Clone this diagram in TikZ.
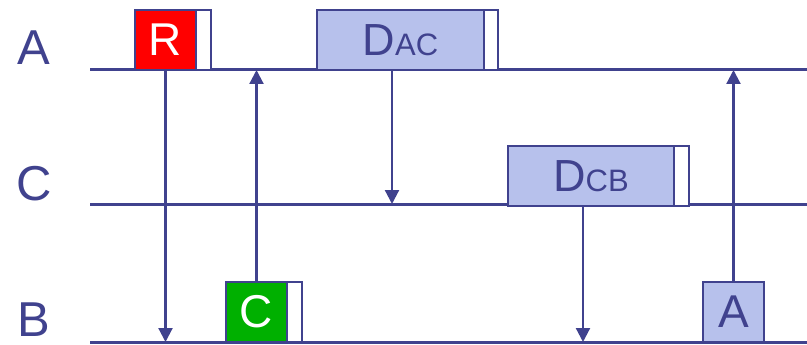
\documentclass[tikz,border=0pt]{standalone}
\usepackage{fontspec}
\setmainfont{Liberation Sans}
\usetikzlibrary{arrows.meta}
\definecolor{ink}{RGB}{64,66,142}
\definecolor{lblue}{RGB}{183,193,236}
\definecolor{dgreen}{RGB}{0,176,0}
\tikzset{
  tl/.style={line width=3pt, draw=ink},
  msg/.style={line width=2.2pt, draw=ink, -{Triangle[length=14pt,width=14pt]}, ink},
  box/.style={draw=ink, line width=2pt, inner sep=0pt, outer sep=0pt, minimum height=60pt},
  tail/.style={box, fill=white, minimum width=15pt, anchor=west},
  lab/.style={text=ink, inner sep=0pt, font=\fontsize{49}{49}\selectfont},
  big/.style={font=\fontsize{46}{46}\selectfont}
}
\begin{document}
\begin{tikzpicture}[x=1pt,y=-1pt]
\useasboundingbox (0,0) rectangle (807,345);
% time lines
\coordinate (A0) at (90,70);  \coordinate (A1) at (807,70);
\coordinate (C0) at (90,204); \coordinate (C1) at (807,204);
\coordinate (B0) at (90,342); \coordinate (B1) at (807,342);
\draw[tl] (A0) -- (A1);
\draw[tl] (C0) -- (C1);
\draw[tl] (B0) -- (B1);
% station labels
\node[lab] (lA) at (34,48) {A};
\node[lab] (lC) at (34,184) {C};
\node[lab] (lB) at (34,320) {B};
% frames
\node[box, fill=red, minimum width=61pt, text=white, big] (R) at (165.5,40) {R};
\node[tail] (Rt) at (R.east) {};
\node[box, fill=lblue, minimum width=167pt, text=ink] (DAC) at (400.5,40)
  {\fontsize{45}{45}\selectfont D\fontsize{31}{31}\selectfont AC};
\node[tail, minimum width=14pt] (DACt) at (DAC.east) {};
\node[box, fill=lblue, minimum width=166pt, text=ink] (DCB) at (591,176)
  {\fontsize{45}{45}\selectfont D\fontsize{31}{31}\selectfont CB};
\node[tail] (DCBt) at (DCB.east) {};
\node[box, fill=dgreen, minimum width=61pt, text=white, big] (Cf) at (256.5,312) {C};
\node[tail] (Cft) at (Cf.east) {};
\node[box, fill=lblue, minimum width=61pt, text=ink, big] (Af) at (733.5,312) {A};
% message arrows
\coordinate (r1) at (165.5,342);
\draw[msg] (R.south) -- (r1);
\coordinate (c1) at (256.5,70);
\draw[msg] (Cf.north) -- (c1);
\coordinate (d0) at (392,70);
\coordinate (d1) at (392,204);
\draw[msg] (d0) -- (d1);
\coordinate (e0) at (583,206);
\coordinate (e1) at (583,342);
\draw[msg] (e0) -- (e1);
\coordinate (a1) at (733.5,70);
\draw[msg] (Af.north) -- (a1);
\end{tikzpicture}
\end{document}
